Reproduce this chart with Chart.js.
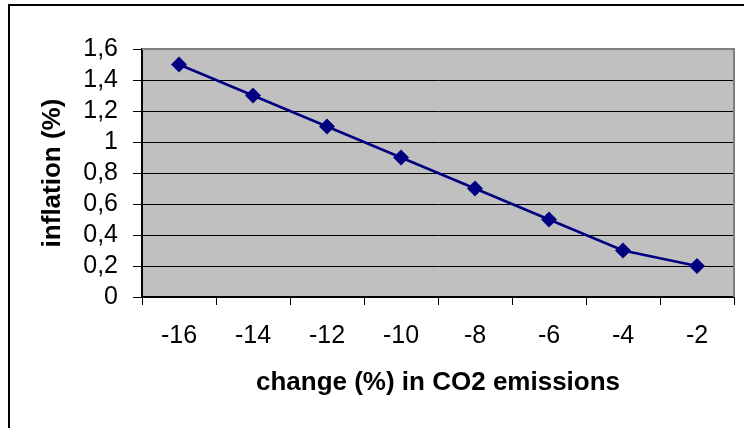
<!DOCTYPE html>
<html>
<head>
<meta charset="utf-8">
<script src="https://cdn.jsdelivr.net/npm/chart.js@4.4.1/dist/chart.umd.min.js"></script>
<style>
  html, body { margin: 0; padding: 0; background: #ffffff; }
  #wrap { width: 744px; height: 428px; position: relative; }
</style>
</head>
<body>
<div id="wrap"><canvas id="c" width="744" height="428"></canvas></div>
<script>
// Emission cut (%) against the resulting inflation (%)
const categories = ['-16', '-14', '-12', '-10', '-8', '-6', '-4', '-2'];
const inflation = [1.5, 1.3, 1.1, 0.9, 0.7, 0.5, 0.3, 0.2];
const yTicks = [0, 0.2, 0.4, 0.6, 0.8, 1.0, 1.2, 1.4, 1.6];

const FONT = '"Liberation Sans", Arial, Helvetica, sans-serif';

// Grey plot background, grey top/right frame and the outer chart frame
const framePlugin = {
  id: 'frame',
  beforeDraw(chart) {
    const ctx = chart.ctx;
    const a = chart.chartArea;
    ctx.save();
    ctx.fillStyle = '#ffffff';
    ctx.fillRect(0, 0, chart.width, chart.height);
    ctx.fillStyle = '#c0c0c0';
    ctx.fillRect(a.left, a.top, a.right - a.left, a.bottom - a.top);
    ctx.strokeStyle = '#000000';
    ctx.lineWidth = 2;
    ctx.beginPath();
    ctx.moveTo(9, chart.height);
    ctx.lineTo(9, 5);
    ctx.lineTo(chart.width, 5);
    ctx.stroke();
    ctx.restore();
  },
  beforeDatasetsDraw(chart) {
    const ctx = chart.ctx;
    const a = chart.chartArea;
    ctx.save();
    ctx.strokeStyle = '#808080';
    ctx.lineWidth = 2;
    ctx.beginPath();
    ctx.moveTo(a.left, a.top);
    ctx.lineTo(a.right, a.top);
    ctx.lineTo(a.right, a.bottom);
    ctx.stroke();
    ctx.restore();
  }
};

new Chart(document.getElementById('c'), {
  type: 'line',
  data: {
    labels: categories,
    datasets: [{
      data: inflation,
      borderColor: '#000080',
      backgroundColor: '#000080',
      borderWidth: 2.5,
      pointStyle: 'rectRot',
      pointRadius: 8,
      pointHoverRadius: 8,
      pointBorderWidth: 0,
      tension: 0,
      fill: false
    }]
  },
  options: {
    responsive: false,
    animation: false,
    events: [],
    layout: { padding: { top: 49, right: 10, left: 0, bottom: 0 } },
    plugins: { legend: { display: false }, tooltip: { enabled: false } },
    scales: {
      x: {
        type: 'category',
        offset: true,
        afterFit(scale) { scale.height = 131; },
        grid: {
          offset: true,
          drawOnChartArea: false,
          drawTicks: true,
          tickLength: 8,
          color: '#000000',
          lineWidth: 1
        },
        border: { display: true, color: '#000000', width: 2 },
        ticks: {
          autoSkip: false,
          maxRotation: 0,
          minRotation: 0,
          padding: 16,
          color: '#000000',
          font: { family: FONT, size: 25 }
        },
        title: {
          display: true,
          text: 'change (%) in CO2 emissions',
          color: '#000000',
          font: { family: FONT, size: 26, weight: 'bold' },
          padding: { top: 0, bottom: 29.4 }
        }
      },
      y: {
        type: 'linear',
        min: 0,
        max: 1.6,
        afterFit(scale) { scale.width = 142; },
        afterBuildTicks(scale) { scale.ticks = yTicks.map(v => ({ value: v })); },
        grid: {
          drawTicks: true,
          tickLength: 9,
          color: '#000000',
          lineWidth: 1
        },
        border: { display: true, color: '#000000', width: 2 },
        ticks: {
          autoSkip: false,
          padding: 15,
          color: '#000000',
          font: { family: FONT, size: 25 },
          callback(v) {
            return (Math.round(v * 10) / 10).toString().replace('.', ',');
          }
        },
        title: {
          display: true,
          text: 'inflation (%)',
          color: '#000000',
          font: { family: FONT, size: 26, weight: 'bold' },
          padding: { top: 37.4, bottom: 0 }
        }
      }
    }
  },
  plugins: [framePlugin]
});
</script>
</body>
</html>
